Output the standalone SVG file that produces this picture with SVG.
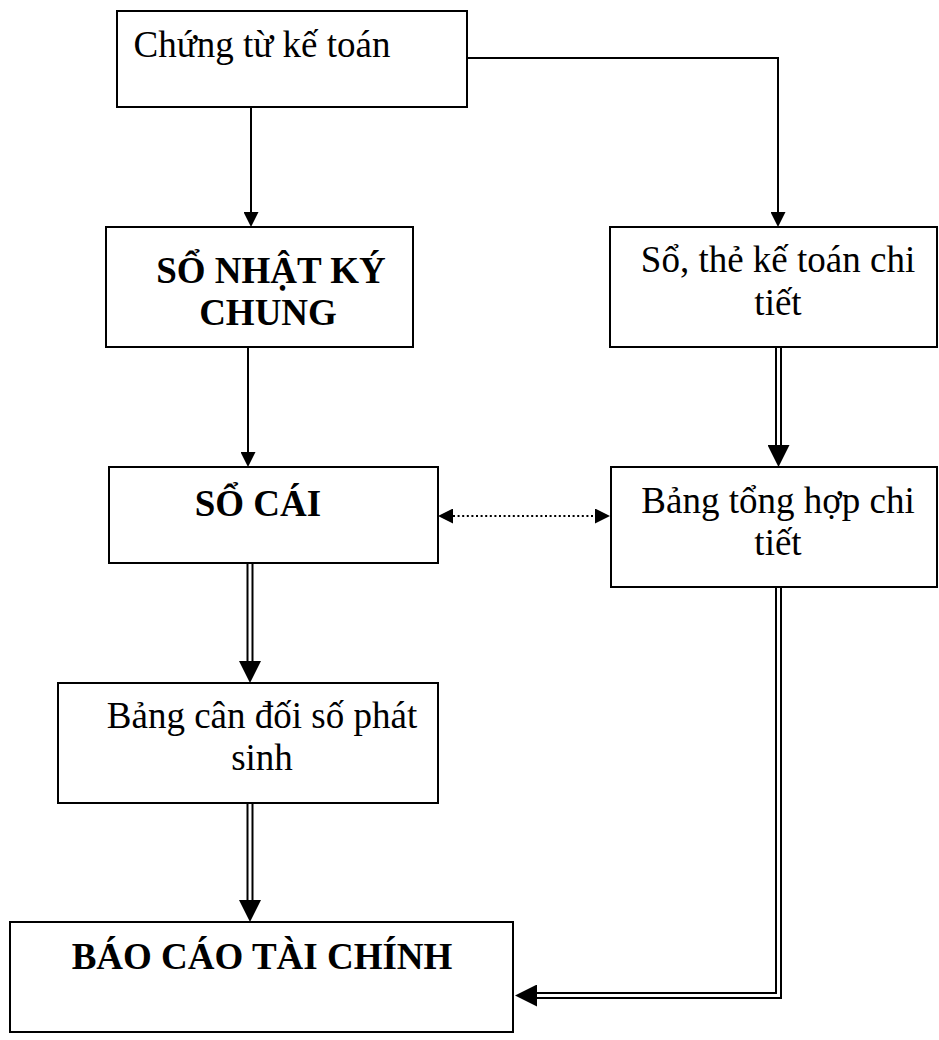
<svg xmlns="http://www.w3.org/2000/svg" width="939" height="1040" viewBox="0 0 939 1040">
<style>
.box{fill:#fff;stroke:#000;stroke-width:2}
.t{font-family:"Liberation Serif","Times New Roman",serif;font-size:37px;fill:#000;text-anchor:middle}
.b{font-weight:bold}
.ln{fill:none;stroke:#000;stroke-width:2}
.dot{fill:none;stroke:#000;stroke-width:2.2;stroke-dasharray:2 2.6}
.dbk{fill:none;stroke:#000;stroke-width:7;stroke-linejoin:miter}
.dwh{fill:none;stroke:#fff;stroke-width:3;stroke-linejoin:miter}
</style>
<defs>
<marker id="a1" markerUnits="userSpaceOnUse" markerWidth="15" markerHeight="15" refX="0" refY="7.5" orient="auto-start-reverse" viewBox="0 0 15 15">
<path d="M0,0 L15,7.5 L0,15 z" fill="#000"/>
</marker>
<marker id="a2" markerUnits="userSpaceOnUse" markerWidth="22" markerHeight="22" refX="0" refY="11" orient="auto" viewBox="0 0 22 22">
<path d="M0,0 L22,11 L0,22 z" fill="#000"/>
</marker>
</defs>
<g id="connectors">
<path class="ln" d="M467,58 H778 V212" marker-end="url(#a1)"/>
<path class="ln" d="M251,107 V212" marker-end="url(#a1)"/>
<path class="ln" d="M248,347 V452" marker-end="url(#a1)"/>
<path class="dot" d="M453,516 H595" marker-start="url(#a1)" marker-end="url(#a1)"/>
<path class="dbk" d="M778.5,347 V445" marker-end="url(#a2)"/>
<path class="dwh" d="M778.5,347 V445"/>
<path class="dbk" d="M250,563 V661" marker-end="url(#a2)"/>
<path class="dwh" d="M250,563 V661"/>
<path class="dbk" d="M250,803 V900" marker-end="url(#a2)"/>
<path class="dwh" d="M250,803 V900"/>
<path class="dbk" d="M778.5,587 V995.5 H537" marker-end="url(#a2)"/>
<path class="dwh" d="M778.5,587 V995.5 H537"/>
</g>
<g id="chung-tu">
<rect class="box" x="117" y="11" width="350" height="96"/>
<text class="t" x="262" y="57">Chứng từ kế toán</text>
</g>
<g id="so-nhat-ky">
<rect class="box" x="106" y="227" width="307" height="120"/>
<text class="t b" x="271" y="283">SỔ NHẬT KÝ</text>
<text class="t b" x="268" y="325">CHUNG</text>
</g>
<g id="so-the">
<rect class="box" x="610" y="227" width="327" height="120"/>
<text class="t" x="778" y="272">Sổ, thẻ kế toán chi</text>
<text class="t" x="778" y="315">tiết</text>
</g>
<g id="so-cai">
<rect class="box" x="109" y="467" width="329" height="96"/>
<text class="t b" x="258" y="516">SỔ CÁI</text>
</g>
<g id="bang-tong-hop">
<rect class="box" x="611" y="467" width="326" height="120"/>
<text class="t" x="778" y="513">Bảng tổng hợp chi</text>
<text class="t" x="778" y="555">tiết</text>
</g>
<g id="bang-can-doi">
<rect class="box" x="58" y="683" width="380" height="120"/>
<text class="t" x="262" y="728">Bảng cân đối số phát</text>
<text class="t" x="262" y="770">sinh</text>
</g>
<g id="bao-cao">
<rect class="box" x="10" y="922" width="503" height="110"/>
<text class="t b" x="262" y="969">BÁO CÁO TÀI CHÍNH</text>
</g>
</svg>
